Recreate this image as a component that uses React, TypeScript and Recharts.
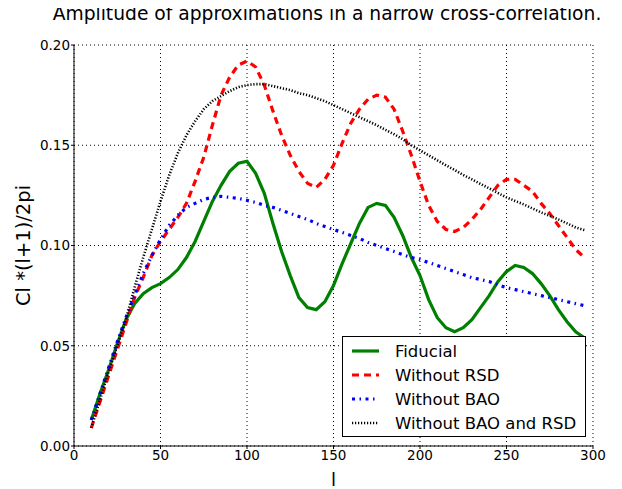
import { LineChart, Line, XAxis, YAxis, CartesianGrid, Label } from 'recharts'

const ells = [10, 15, 20, 25, 30, 35, 40, 45, 50, 55, 60, 65, 70, 75, 80, 85, 90, 95, 100, 105, 110, 115, 120, 125, 130, 135, 140, 145, 150, 155, 160, 165, 170, 175, 180, 185, 190, 195, 200, 205, 210, 215, 220, 225, 230, 235, 240, 245, 250, 255, 260, 265, 270, 275, 280, 285, 290, 295]

const fiducial = [0.013, 0.026, 0.038, 0.051, 0.063, 0.071, 0.076, 0.079, 0.081, 0.084, 0.088, 0.094, 0.102, 0.112, 0.122, 0.130, 0.137, 0.141, 0.142, 0.136, 0.126, 0.111, 0.097, 0.085, 0.074, 0.069, 0.068, 0.072, 0.080, 0.091, 0.101, 0.111, 0.119, 0.121, 0.120, 0.114, 0.105, 0.094, 0.085, 0.073, 0.064, 0.059, 0.057, 0.059, 0.063, 0.069, 0.075, 0.082, 0.087, 0.090, 0.089, 0.086, 0.081, 0.075, 0.068, 0.062, 0.057, 0.054]

const noRsd = [0.009, 0.022, 0.035, 0.048, 0.061, 0.074, 0.084, 0.095, 0.102, 0.108, 0.114, 0.121, 0.132, 0.144, 0.160, 0.175, 0.184, 0.190, 0.192, 0.189, 0.180, 0.167, 0.155, 0.145, 0.137, 0.131, 0.129, 0.133, 0.140, 0.151, 0.161, 0.168, 0.173, 0.175, 0.174, 0.168, 0.157, 0.145, 0.132, 0.120, 0.112, 0.108, 0.107, 0.109, 0.113, 0.118, 0.124, 0.130, 0.133, 0.133, 0.130, 0.127, 0.121, 0.116, 0.110, 0.104, 0.098, 0.094]

const noBao = [0.013, 0.026, 0.039, 0.052, 0.064, 0.075, 0.086, 0.095, 0.103, 0.110, 0.115, 0.119, 0.121, 0.123, 0.124, 0.1245, 0.124, 0.1235, 0.1225, 0.1215, 0.120, 0.119, 0.1175, 0.116, 0.1145, 0.113, 0.111, 0.1095, 0.108, 0.1065, 0.105, 0.1035, 0.1015, 0.100, 0.0985, 0.097, 0.0955, 0.094, 0.093, 0.0915, 0.090, 0.0885, 0.087, 0.0855, 0.084, 0.083, 0.082, 0.0805, 0.079, 0.078, 0.077, 0.076, 0.075, 0.074, 0.073, 0.072, 0.071, 0.070]

const noBaoRsd = [0.009, 0.023, 0.037, 0.050, 0.063, 0.079, 0.094, 0.108, 0.122, 0.135, 0.146, 0.155, 0.162, 0.168, 0.172, 0.1745, 0.177, 0.179, 0.180, 0.1805, 0.1805, 0.1795, 0.1785, 0.1775, 0.176, 0.175, 0.1735, 0.172, 0.170, 0.168, 0.166, 0.164, 0.162, 0.160, 0.1577, 0.1555, 0.153, 0.150, 0.1475, 0.145, 0.1425, 0.140, 0.1377, 0.1352, 0.133, 0.1307, 0.1285, 0.1262, 0.124, 0.1222, 0.1205, 0.1185, 0.1165, 0.1148, 0.113, 0.111, 0.109, 0.1077]

const xTicks = [0, 50, 100, 150, 200, 250, 300]
const yTicks = [0, 0.05, 0.1, 0.15, 0.2]

const series = [
  { key: 'fiducial', name: 'Fiducial', color: '#008000', dash: undefined as string | undefined, width: 3.2 },
  { key: 'noRsd', name: 'Without RSD', color: '#ff0000', dash: '7 5', width: 3.2 },
  { key: 'noBao', name: 'Without BAO', color: '#0000ff', dash: '3 4.5 1.5 4.5', width: 3.2 },
  { key: 'noBaoRsd', name: 'Without BAO and RSD', color: '#000000', dash: '1.2 1.8', width: 2.6 },
]

const data = ells.map((l, i) => ({
  l,
  fiducial: fiducial[i],
  noRsd: noRsd[i],
  noBao: noBao[i],
  noBaoRsd: noBaoRsd[i],
}))

const font = '"DejaVu Sans", sans-serif'

// legend drawn in html, sitting over the lower right of the plot
function LegendBox() {
  return (
    <div style={{ position: 'absolute', left: 334, top: 328, width: 244, height: 101, border: '1px solid #000', background: '#fff', boxSizing: 'border-box', paddingTop: 2, fontSize: 16.5, color: '#000', whiteSpace: 'nowrap' }}>
      {series.map(s => (
        <div key={s.key} style={{ display: 'flex', alignItems: 'center', height: 24 }}>
          <svg width={43} height={10} style={{ marginLeft: 9 }}>
            <line x1={0} y1={5} x2={27} y2={5} stroke={s.color} strokeWidth={s.width} strokeDasharray={s.dash} />
          </svg>
          <span>{s.name}</span>
        </div>
      ))}
    </div>
  )
}

export default function App() {
  return (
    <div style={{ position: 'relative', width: 614, height: 481, fontFamily: font }}>
      <LineChart width={614} height={481} data={data} margin={{ top: 37, right: 29, left: 6, bottom: 1 }}>
        <CartesianGrid stroke="#000" strokeDasharray="1 3" strokeWidth={1} />
        <XAxis dataKey="l" type="number" domain={[0, 300]} ticks={xTicks} height={42} stroke="#000" tick={{ fill: '#000', fontSize: 13.5 }} tickSize={3} tickMargin={1} allowDataOverflow>
          <Label value="l" position="insideBottom" offset={2} style={{ fontSize: 18, fill: '#000' }} />
        </XAxis>
        <XAxis xAxisId="top" orientation="top" dataKey="l" type="number" domain={[0, 300]} ticks={xTicks} height={0} stroke="#000" tick={false} />
        <YAxis type="number" domain={[0, 0.2]} ticks={yTicks} width={60} stroke="#000" tick={{ fill: '#000', fontSize: 13.5 }} tickFormatter={(v: number) => v.toFixed(2)} tickSize={3} tickMargin={1}>
          <Label value="Cl *(l+1)/2pi" angle={-90} position="insideLeft" offset={9} style={{ fontSize: 19.5, fill: '#000', textAnchor: 'middle' }} />
        </YAxis>
        <YAxis yAxisId="right" orientation="right" type="number" domain={[0, 0.2]} ticks={yTicks} width={0} stroke="#000" tick={false} />
        {series.map(s => (
          <Line key={s.key} dataKey={s.key} name={s.name} type="linear" stroke={s.color} strokeWidth={s.width} strokeDasharray={s.dash} dot={false} isAnimationActive={false} />
        ))}
      </LineChart>
      <LegendBox />
      <div style={{ position: 'absolute', left: 0, width: 638, top: -5, textAlign: 'center', fontSize: 18.7, color: '#000', zIndex: 2 }}>
        Amplitude of approximations in a narrow cross-correlation.
      </div>
    </div>
  )
}
